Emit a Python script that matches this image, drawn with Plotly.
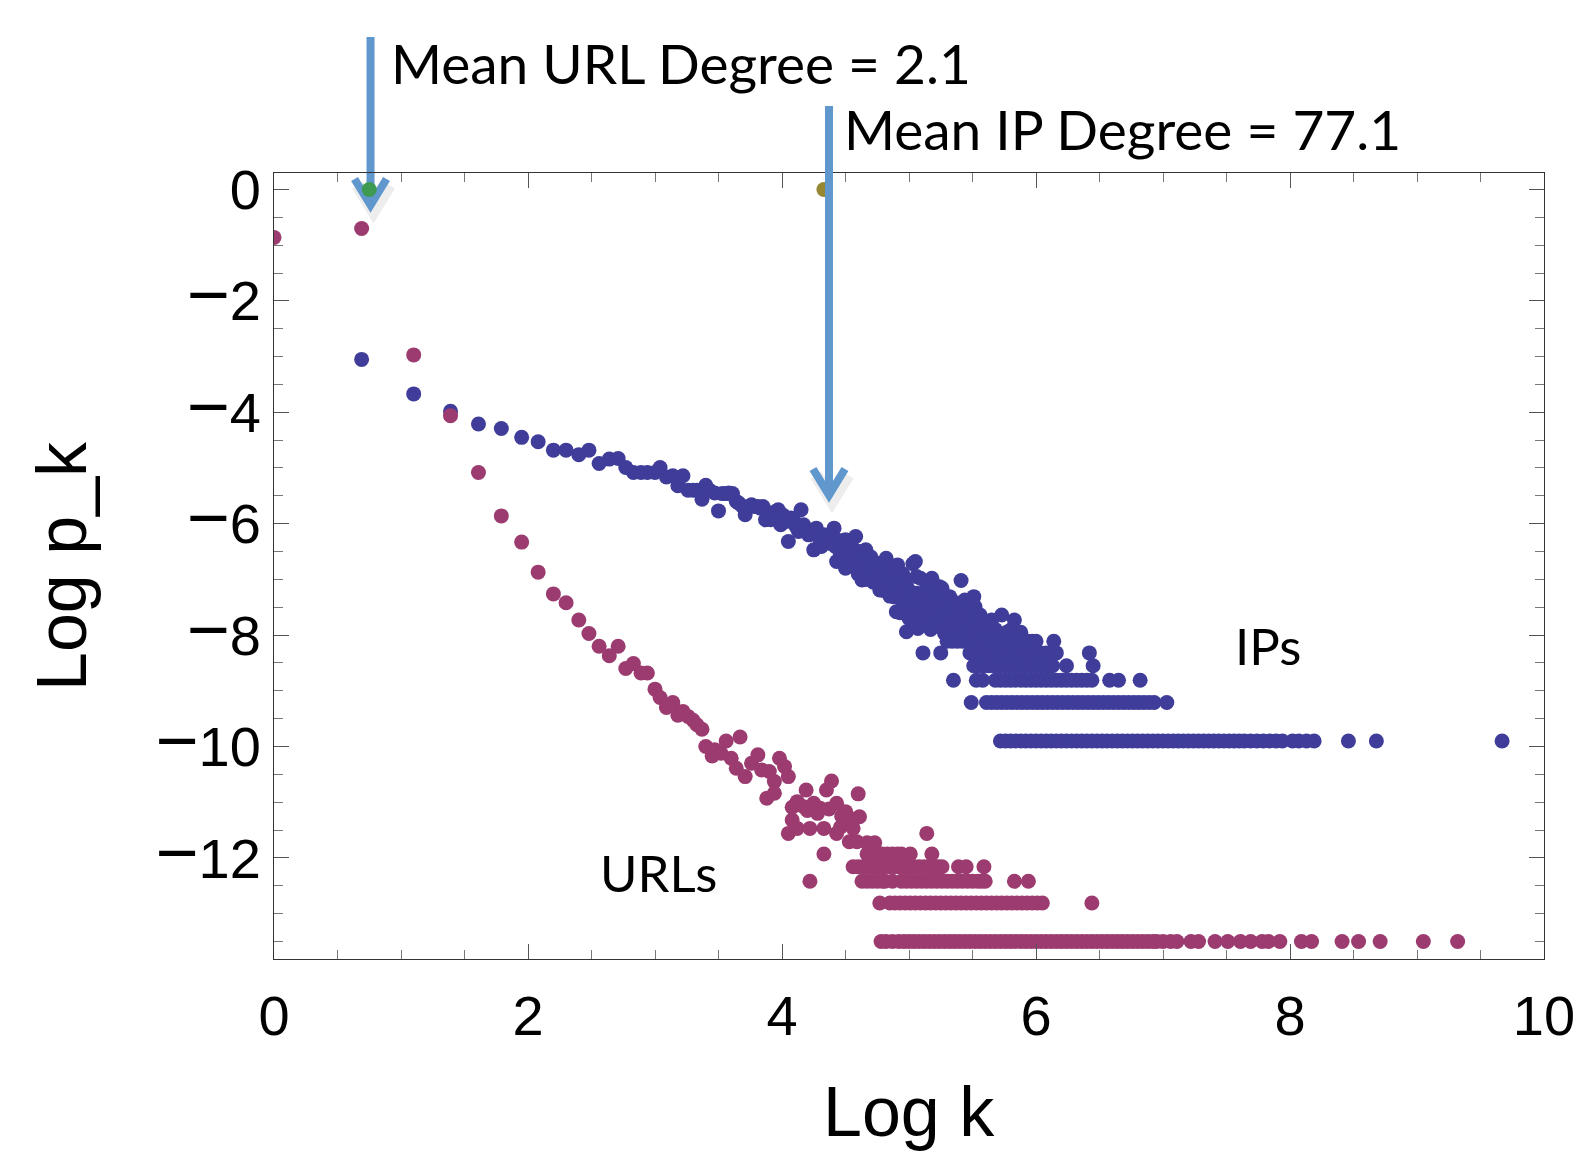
import plotly.graph_objects as go

# ---------------- data ----------------
# IP degree distribution: scattered points (Log k, Log p_k)
ip_x = [0.69, 1.10, 1.39, 1.61, 1.79, 1.95, 2.08, 2.20, 2.30, 2.40, 2.48, 2.56, 2.64, 2.71, 2.77,
        2.83, 2.89, 2.94, 3.00, 3.04, 3.09, 3.14, 3.18, 3.22, 3.26, 3.30, 3.33, 3.37, 3.40, 3.43,
        3.47, 3.50, 3.53, 3.56, 3.58, 3.61, 3.64, 3.66, 3.69, 3.71, 3.74, 3.76, 3.78, 3.81, 3.83,
        3.85, 3.87, 3.89, 3.91, 3.93, 3.95, 3.97, 3.99, 4.01, 4.03, 4.05, 4.07, 4.09, 4.11, 4.13,
        4.15, 4.17, 4.19, 4.21, 4.23, 4.25, 4.27, 4.29, 4.31, 4.33, 4.35, 4.37, 4.39, 4.41, 4.42,
        4.43, 4.45, 4.47, 4.50, 4.50, 4.52, 4.54, 4.56, 4.58, 4.59, 4.61, 4.63, 4.64, 4.66, 4.68,
        4.70, 4.72, 4.75, 4.77, 4.78, 4.80, 4.82, 4.84, 4.86, 4.88, 4.90, 4.91, 4.93, 4.95, 4.96,
        4.98, 4.98, 5.00, 5.01, 5.03, 5.05, 5.06, 5.07, 5.09, 5.11, 5.12, 5.14, 5.14, 5.16, 5.18,
        5.18, 5.19, 5.21, 5.22, 5.24, 5.26, 5.27, 5.28, 5.30, 5.32, 5.33, 5.35, 5.35, 5.37, 5.38,
        5.40, 5.41, 5.43, 5.44, 5.45, 5.47, 5.49, 5.51, 5.52, 5.53, 5.55, 5.56, 5.59, 5.62, 5.65,
        5.68, 5.73, 5.77, 5.80, 5.83, 5.88, 5.10, 5.17, 5.24, 5.03, 4.95, 5.08, 5.20, 5.26, 5.40,
        5.45, 5.50, 4.93, 5.01, 5.12,
        4.46, 4.52, 4.57, 4.62, 4.66, 4.70, 4.74, 4.79, 4.83, 4.87, 4.92, 4.97, 5.02, 5.06, 5.13,
        5.16, 5.22, 5.29, 5.33, 5.38, 4.72, 4.80, 4.85, 4.95, 5.00, 5.05, 4.60, 4.66]
ip_y = [-3.05, -3.67, -3.98, -4.21, -4.29, -4.45, -4.53, -4.68, -4.68, -4.76, -4.68, -4.92, -4.84, -4.83, -4.99,
        -5.08, -5.08, -5.08, -5.08, -4.99, -5.16, -5.14, -5.32, -5.14, -5.40, -5.40, -5.40, -5.56, -5.31, -5.40,
        -5.45, -5.77, -5.46, -5.46, -5.45, -5.46, -5.60, -5.63, -5.69, -5.84, -5.69, -5.66, -5.69, -5.69, -5.72,
        -5.69, -5.93, -5.80, -5.93, -5.87, -5.78, -5.75, -6.02, -5.85, -5.96, -6.32, -5.90, -5.93, -6.05, -6.14,
        -5.75, -6.02, -6.10, -6.20, -6.17, -6.47, -6.08, -6.25, -6.41, -6.20, -6.29, -6.35, -6.22, -6.08, -6.41,
        -6.68, -6.30, -6.45, -6.29, -6.80, -6.40, -6.53, -6.45, -6.23, -6.59, -6.50, -7.01, -6.62, -6.47, -6.80,
        -6.60, -6.70, -6.71, -7.19, -6.85, -6.75, -6.62, -6.89, -6.95, -7.31, -7.58, -6.74, -7.05, -6.90, -7.01,
        -7.13, -7.94, -7.20, -7.64, -6.72, -6.68, -6.95, -7.88, -6.98, -7.31, -7.45, -7.13, -7.64, -7.25, -6.98,
        -7.01, -7.49, -7.76, -7.35, -7.13, -7.16, -7.37, -7.97, -7.67, -7.31, -7.55, -7.61, -7.85, -7.42, -7.49,
        -7.70, -7.02, -7.64, -7.37, -7.85, -7.55, -7.75, -7.31, -7.49, -7.67, -7.90, -7.64, -7.85, -7.95, -7.73,
        -7.90, -7.64, -7.95, -7.91, -7.73, -7.95, -7.75, -7.90, -7.85, -7.45, -7.40, -7.55, -7.60, -7.50, -7.95,
        -7.95, -7.95, -7.60, -7.30, -7.80,
        -6.55, -6.62, -6.72, -6.80, -6.90, -6.95, -6.88, -7.00, -7.08, -7.15, -7.20, -7.30, -7.35, -7.25, -7.40,
        -7.55, -7.45, -7.80, -7.90, -7.70, -7.05, -7.20, -7.30, -7.55, -7.70, -7.80, -6.90, -7.00]

# IP horizontal bands (few nodes per degree): level -> Log k positions
ip_band_levels = [-8.11, -8.32, -8.55, -8.81, -9.21, -9.90]
ip_band_x = [
    [5.30, 5.34, 5.38, 5.42, 5.46, 5.50, 5.54, 5.58, 5.62, 5.66, 5.70, 5.74, 5.78, 5.82, 5.86, 5.90,
     5.94, 5.97, 6.00, 6.14],
    [5.11, 5.25, 5.48, 5.52, 5.56, 5.60, 5.64, 5.68, 5.72, 5.76, 5.80, 5.84, 5.88, 5.92, 5.96, 6.00,
     6.04, 6.08, 6.12, 6.16, 6.42],
    [5.51, 5.55, 5.59, 5.63, 5.67, 5.71, 5.75, 5.79, 5.83, 5.87, 5.91, 5.95, 5.99, 6.03, 6.07, 6.10,
     6.13, 6.24, 6.45],
    [5.35, 5.53, 5.58, 5.68, 5.72, 5.76, 5.80, 5.84, 5.88, 5.92, 5.96, 6.00, 6.04, 6.08, 6.12, 6.16,
     6.20, 6.24, 6.28, 6.32, 6.36, 6.40, 6.44, 6.58, 6.65, 6.82],
    [5.49, 5.61, 5.65, 5.69, 5.73, 5.77, 5.81, 5.85, 5.89, 5.93, 5.97, 6.01, 6.05, 6.09, 6.13, 6.17,
     6.21, 6.25, 6.29, 6.33, 6.37, 6.41, 6.45, 6.49, 6.53, 6.57, 6.61, 6.65, 6.69, 6.73, 6.77, 6.81,
     6.85, 6.89, 6.93, 7.03],
    [5.72, 5.76, 5.80, 5.84, 5.88, 5.92, 5.96, 6.00, 6.04, 6.08, 6.12, 6.16, 6.20, 6.24, 6.28, 6.32,
     6.36, 6.40, 6.44, 6.48, 6.52, 6.56, 6.60, 6.64, 6.68, 6.72, 6.76, 6.80, 6.84, 6.88, 6.92, 6.96,
     7.00, 7.04, 7.08, 7.12, 7.16, 7.20, 7.24, 7.28, 7.32, 7.36, 7.40, 7.44, 7.48, 7.52, 7.56, 7.60,
     7.64, 7.69, 7.74, 7.79, 7.84, 7.89, 7.94, 8.02, 8.07, 8.13, 8.19, 8.46, 8.68, 9.67],
]

# URL degree distribution: scattered points
url_x = [0.00, 0.69, 1.10, 1.39, 1.61, 1.79, 1.95, 2.08, 2.20, 2.30, 2.40, 2.48, 2.56, 2.64, 2.71,
         2.77, 2.83, 2.89, 2.94, 3.00, 3.04, 3.09, 3.14, 3.18, 3.22, 3.26, 3.30, 3.33, 3.37, 3.40,
         3.45, 3.47, 3.52, 3.56, 3.60, 3.64, 3.67, 3.71, 3.76, 3.81, 3.84, 3.88, 3.90, 3.94, 3.94,
         3.98, 4.02, 4.05, 4.05, 4.08, 4.08, 4.12, 4.12, 4.17, 4.19, 4.22, 4.25, 4.30, 4.33, 4.35,
         4.39, 4.43, 4.43, 4.46, 4.50, 4.53, 4.56, 4.59, 4.60, 4.61, 4.67, 4.73, 5.14, 4.20, 4.28,
         4.37, 4.47, 4.55]
url_y = [-0.86, -0.70, -2.97, -4.06, -5.08, -5.86, -6.33, -6.87, -7.26, -7.42, -7.73, -7.97, -8.20, -8.37, -8.20,
         -8.60, -8.51, -8.68, -8.68, -8.97, -9.12, -9.30, -9.21, -9.44, -9.37, -9.46, -9.53, -9.61, -9.69, -10.00,
         -10.17, -10.06, -10.12, -9.90, -10.21, -10.39, -9.83, -10.54, -10.30, -10.15, -10.42, -10.93, -10.45, -10.63, -10.84,
         -10.21, -10.36, -10.54, -11.56, -11.09, -11.32, -10.99, -11.47, -11.08, -10.78, -11.47, -11.02, -11.11, -11.47, -10.78,
         -10.62, -11.02, -11.56, -11.45, -11.17, -11.71, -11.47, -11.71, -10.85, -11.26, -11.73, -11.73, -11.56, -11.15, -11.20,
         -11.12, -11.25, -11.30]

# URL horizontal bands
url_band_levels = [-11.93, -12.16, -12.42, -12.81, -13.50]
url_band_x = [
    [4.33, 4.67, 4.71, 4.75, 4.79, 4.83, 4.87, 4.91, 4.94, 5.01, 5.18],
    [4.56, 4.60, 4.64, 4.68, 4.72, 4.76, 4.80, 4.84, 4.88, 4.92, 4.96, 5.00, 5.04, 5.08, 5.12, 5.16,
     5.20, 5.23, 5.26, 5.39, 5.45, 5.59],
    [4.22, 4.63, 4.67, 4.71, 4.75, 4.79, 4.81, 4.87, 4.94, 4.98, 5.02, 5.06, 5.10, 5.14, 5.18, 5.22,
     5.26, 5.30, 5.34, 5.38, 5.42, 5.46, 5.50, 5.54, 5.57, 5.60, 5.83, 5.94],
    [4.77, 4.85, 4.89, 4.93, 4.97, 5.01, 5.05, 5.09, 5.13, 5.17, 5.21, 5.25, 5.29, 5.33, 5.37, 5.41,
     5.45, 5.49, 5.53, 5.57, 5.61, 5.65, 5.69, 5.73, 5.77, 5.81, 5.85, 5.89, 5.93, 5.97, 6.01, 6.05,
     6.44],
    [4.78, 4.82, 4.87, 4.92, 4.96, 5.00, 5.04, 5.08, 5.12, 5.16, 5.20, 5.24, 5.28, 5.32, 5.36, 5.40,
     5.44, 5.48, 5.52, 5.56, 5.60, 5.64, 5.68, 5.72, 5.76, 5.80, 5.84, 5.88, 5.92, 5.96, 6.00, 6.04,
     6.08, 6.12, 6.16, 6.20, 6.24, 6.28, 6.32, 6.36, 6.40, 6.44, 6.48, 6.52, 6.56, 6.60, 6.64, 6.68,
     6.72, 6.76, 6.80, 6.84, 6.88, 6.92, 6.95, 7.00, 7.06, 7.11, 7.22, 7.28, 7.41, 7.51, 7.61, 7.69,
     7.78, 7.83, 7.92, 8.09, 8.17, 8.41, 8.54, 8.71, 9.05, 9.32],
]

# mean-degree markers
mean_url_x, mean_url_y = [0.75], [0.0]
mean_ip_x, mean_ip_y = [4.33], [0.0]

x_ticks = [0, 2, 4, 6, 8, 10]
y_ticks = [0, -2, -4, -6, -8, -10, -12]
X_RANGE = [0, 10]
Y_RANGE = [-13.815, 0.296]

IP_COLOR = "rgb(63,61,153)"
URL_COLOR = "rgb(155,59,111)"
ARROW_COLOR = "#6097CC"
MARKER_SIZE = 15

# ---------------- assemble series ----------------
ip_all_x, ip_all_y = list(ip_x), list(ip_y)
for lvl, xs in zip(ip_band_levels, ip_band_x):
    ip_all_x += xs
    ip_all_y += [lvl] * len(xs)

url_all_x, url_all_y = list(url_x), list(url_y)
for lvl, xs in zip(url_band_levels, url_band_x):
    url_all_x += xs
    url_all_y += [lvl] * len(xs)

fig = go.Figure()
fig.add_trace(go.Scatter(x=ip_all_x, y=ip_all_y, mode="markers",
                         marker=dict(color=IP_COLOR, size=MARKER_SIZE, line=dict(width=0)),
                         name="IPs"))
fig.add_trace(go.Scatter(x=url_all_x, y=url_all_y, mode="markers",
                         marker=dict(color=URL_COLOR, size=MARKER_SIZE, line=dict(width=0)),
                         name="URLs"))
fig.add_trace(go.Scatter(x=mean_url_x, y=mean_url_y, mode="markers",
                         marker=dict(color="rgb(62,154,80)", size=MARKER_SIZE), name="mean URL"))
fig.add_trace(go.Scatter(x=mean_ip_x, y=mean_ip_y, mode="markers",
                         marker=dict(color="rgb(150,135,50)", size=MARKER_SIZE), name="mean IP"))

# ---------------- layout geometry ----------------
W, H = 1591, 1152
PL, PR, PT, PB = 274, 1544, 173, 959


def px(xp):
    return (xp - PL) / (PR - PL)


def py(yp):
    return (PB - yp) / (PB - PT)


def dx(xv):
    return (xv - X_RANGE[0]) / (X_RANGE[1] - X_RANGE[0])


shapes = []


def add_arrow(xval, top_px, tip_px, layer):
    xc = dx(xval)
    xpix = PL + xc * (PR - PL)
    arm_top = tip_px - 26
    # soft shadow
    shapes.append(dict(type="path", xref="paper", yref="paper", layer=layer,
                       path=f"M {px(xpix - 16 + 3)},{py(arm_top + 6)} L {px(xpix + 3)},{py(tip_px + 6)} L {px(xpix + 16 + 3)},{py(arm_top + 6)}",
                       line=dict(color="rgba(0,0,0,0.07)", width=13)))
    shapes.append(dict(type="line", xref="paper", yref="paper", layer=layer,
                       x0=xc, x1=xc, y0=py(top_px), y1=py(tip_px - 3),
                       line=dict(color=ARROW_COLOR, width=8)))
    shapes.append(dict(type="path", xref="paper", yref="paper", layer=layer,
                       path=f"M {px(xpix - 16)},{py(arm_top)} L {px(xpix)},{py(tip_px)} L {px(xpix + 16)},{py(arm_top)}",
                       line=dict(color=ARROW_COLOR, width=8)))


add_arrow(0.76, 37, 205, "below")
add_arrow(4.37, 106, 495, "above")

TEXT_FONT = "Lato, 'Open Sans', sans-serif"
AXIS_FONT = "Liberation Sans, Arial, sans-serif"
annotations = [
    dict(text="Mean URL Degree = 2.1", xref="paper", yref="paper", x=px(389), y=py(63),
         xanchor="left", yanchor="middle", showarrow=False,
         font=dict(family=TEXT_FONT, size=55, color="black")),
    dict(text="Mean IP Degree = 77.1", xref="paper", yref="paper", x=px(842), y=py(129),
         xanchor="left", yanchor="middle", showarrow=False,
         font=dict(family=TEXT_FONT, size=55, color="black")),
    dict(text="IPs", xref="x", yref="y", x=7.55, y=-8.18, xanchor="left", yanchor="middle",
         showarrow=False, font=dict(family=TEXT_FONT, size=51, color="black")),
    dict(text="URLs", xref="x", yref="y", x=2.55, y=-12.27, xanchor="left", yanchor="middle",
         showarrow=False, font=dict(family=TEXT_FONT, size=51, color="black")),
    dict(text="Log k", xref="paper", yref="paper", x=0.5, y=py(1112), xanchor="center",
         yanchor="middle", showarrow=False,
         font=dict(family=AXIS_FONT, size=70, color="black")),
    dict(text="Log p_k", xref="paper", yref="paper", x=px(62), y=0.5, xanchor="center",
         yanchor="middle", showarrow=False, textangle=-90,
         font=dict(family=AXIS_FONT, size=70, color="black")),
]

axis_common = dict(
    showline=True, linecolor="#333", linewidth=1, mirror="ticks",
    ticks="inside", ticklen=15, tickwidth=1, tickcolor="#555",
    showgrid=False, zeroline=False,
    tickfont=dict(family=AXIS_FONT, size=56, color="black"),
    minor=dict(ticks="inside", ticklen=9, tickwidth=1, tickcolor="#777", dtick=0.5, showgrid=False),
)


def ylab(v):
    if v < 0:
        return '<span style="font-size:74px">\u2212</span>' + str(-v)
    return str(v)


fig.update_layout(
    width=W, height=H,
    margin=dict(l=PL, r=W - PR, t=PT, b=H - PB, pad=0),
    paper_bgcolor="white", plot_bgcolor="rgba(0,0,0,0)",
    showlegend=False,
    shapes=shapes, annotations=annotations,
    xaxis=dict(range=X_RANGE, tickmode="array", tickvals=x_ticks,
               ticktext=[str(v) for v in x_ticks], ticklabelstandoff=8, **axis_common),
    yaxis=dict(range=Y_RANGE, tickmode="array", tickvals=y_ticks,
               ticktext=[ylab(v) for v in y_ticks],
               ticklabelstandoff=1, **axis_common),
)

fig.write_html("out.html")
